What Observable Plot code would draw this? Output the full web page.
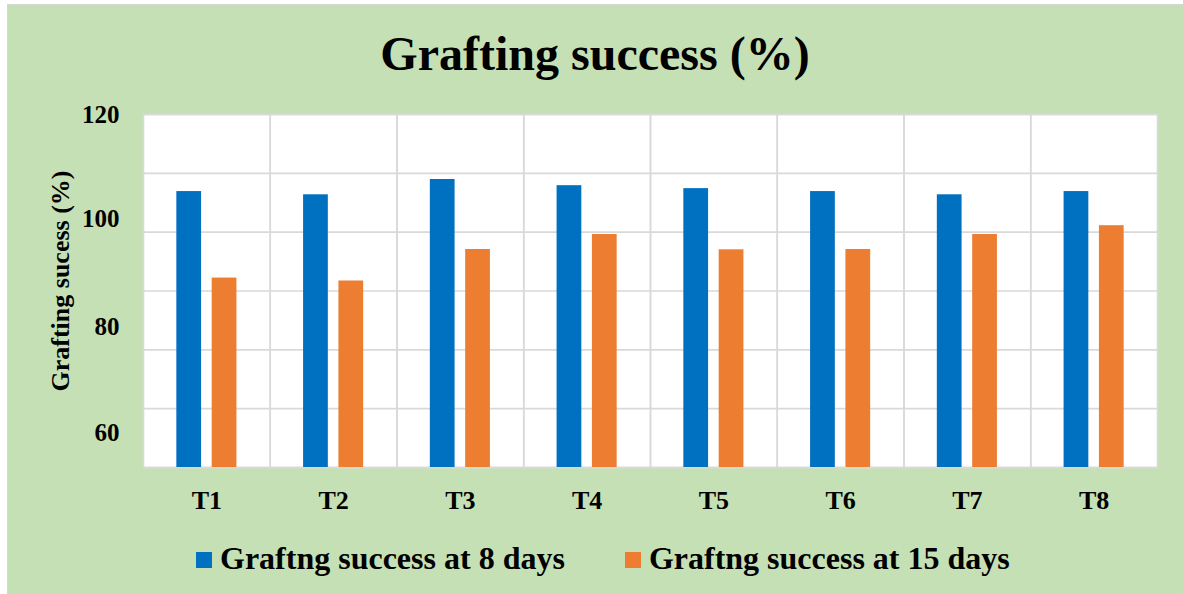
<!DOCTYPE html>
<html>
<head>
<meta charset="utf-8">
<script src="https://cdn.jsdelivr.net/npm/d3@7"></script>
<script src="https://cdn.jsdelivr.net/npm/@observablehq/plot@0.6"></script>
<style>
  html, body { margin: 0; padding: 0; background: #ffffff; }
  body { width: 1183px; height: 594px; position: relative; overflow: hidden;
         font-family: "Liberation Serif", "Times New Roman", serif; }
  #panel { position: absolute; left: 7px; top: 4px; width: 1180px; height: 594px;
           background: #C5E0B4; border-left: 1.5px solid #d6d6d6; border-top: 1.5px solid #d6d6d6; }
  #title { position: absolute; left: 0; width: 1190px; top: 26px; text-align: center;
           font-size: 48px; font-weight: bold; line-height: 56px; color: #000; }
  #chart { position: absolute; left: 0; top: 0; }
  #legend { position: absolute; top: 540px; left: 196px; display: flex; align-items: center;
            font-size: 32px; font-weight: bold; color: #000; line-height: 36px; }
  .item { display: flex; align-items: center; }
  .sw { width: 16px; height: 16px; margin-right: 8px; margin-top: 4px; }
</style>
</head>
<body>
<div id="panel"></div>
<div id="title"></div>
<div id="chart"></div>
<div id="legend"></div>
<script>
const chartTitle = "Grafting success (%)";
const yTitle = "Grafting sucess (%)";
const categories = ["T1", "T2", "T3", "T4", "T5", "T6", "T7", "T8"];
const seriesNames = ["Graftng success at 8 days", "Graftng success at 15 days"];
const days8 = [106.9, 106.35, 108.95, 107.9, 107.4, 106.9, 106.35, 106.9];
const days15 = [92.2, 91.7, 97.05, 99.6, 97.0, 97.05, 99.6, 101.1];
const colors = ["#0070C0", "#ED7D31"];
const yDomain = [60, 120];
const yGridTicks = [60, 70, 80, 90, 100, 110, 120];
// tick labels as printed on the original axis, and where they sit on it
const yLabelTicks = [120, 102.3, 83.8, 65.8];
const yLabelTexts = ["120", "100", "80", "60"];

const table = [];
categories.forEach((c, i) => {
  table.push({cat: c, series: seriesNames[0], value: days8[i]});
  table.push({cat: c, series: seriesNames[1], value: days15[i]});
});

document.getElementById("title").textContent = chartTitle;

const serif = "'Liberation Serif', 'Times New Roman', serif";

const chart = Plot.plot({
  width: 1183,
  height: 525,
  marginLeft: 143,
  marginRight: 26,
  marginTop: 114,
  marginBottom: 58,
  style: {background: "transparent", fontFamily: serif, color: "#000", overflow: "visible"},
  fx: {domain: categories, padding: 0, round: false},
  x: {domain: seriesNames, paddingInner: 0.3, paddingOuter: 0.943, round: false, axis: null},
  y: {domain: yDomain},
  color: {domain: seriesNames, range: colors},
  marks: [
    Plot.frame({fill: "white", stroke: null}),
    Plot.gridY(yGridTicks, {stroke: "#d9d9d9", strokeOpacity: 1, strokeWidth: 1.6}),
    Plot.frame({stroke: "#d9d9d9", strokeWidth: 1.6}),
    Plot.barY(table, {fx: "cat", x: "series", y: "value", fill: "series", clip: true}),
    Plot.axisFx({anchor: "bottom", tickSize: 0, tickPadding: 23, fontSize: 26, fontWeight: "bold",
                 fontFamily: serif, label: null}),
    Plot.axisY(yLabelTicks, {
      anchor: "left", tickSize: 0, tickPadding: 24, fontSize: 25, fontWeight: "bold", fontFamily: serif,
      tickFormat: d => yLabelTexts[yLabelTicks.indexOf(d)],
      label: null
    }),
    Plot.text([yTitle], {
      fx: () => categories[0], text: d => d, frameAnchor: "left", rotate: -90,
      dx: -83, dy: -10, fontSize: 26, fontWeight: "bold", fontFamily: serif, fill: "#000",
      textAnchor: "middle", lineAnchor: "middle"
    })
  ]
});
document.getElementById("chart").appendChild(chart);

const legend = document.getElementById("legend");
seriesNames.forEach((s, i) => {
  const item = document.createElement("div");
  item.className = "item";
  if (i > 0) item.style.marginLeft = "60px";
  const sw = document.createElement("div");
  sw.className = "sw";
  sw.style.background = colors[i];
  const t = document.createElement("span");
  t.textContent = s;
  item.appendChild(sw);
  item.appendChild(t);
  legend.appendChild(item);
});
</script>
</body>
</html>
